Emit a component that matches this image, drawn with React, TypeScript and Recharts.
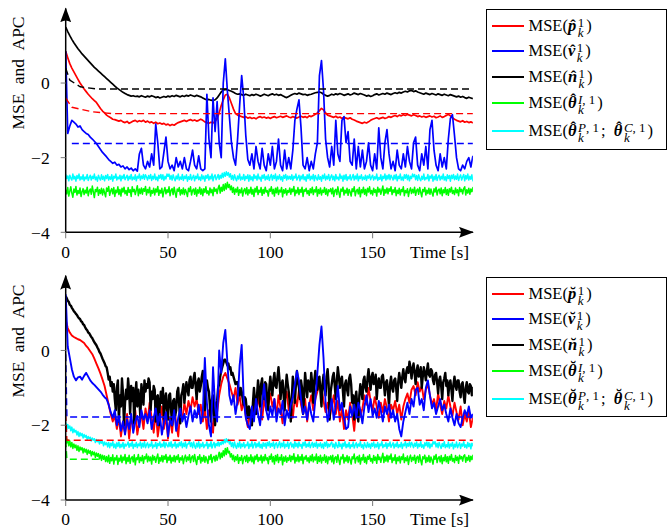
import React from 'react';
import { LineChart, Line, XAxis, YAxis } from 'recharts';

// sample spacing (s): slow traces every 1 s, the dense noisy ones every 0.5 s
const STEP = 1;
const FINE = 0.5;

// ---- upper panel (hat estimates) ----
const topP = [
  0.85, 0.68, 0.52, 0.4, 0.3, 0.2, 0.1, 0.0, -0.08, -0.16, -0.23, -0.3, -0.36, -0.42, -0.47, -0.52, -0.6, -0.68, -0.75, -0.8,
  -0.86, -0.9, -0.93, -0.97, -0.98, -1.0, -1.02, -1.0, -1.04, -1.06, -1.03, -1.08, -1.05, -1.02, -1.0, -1.04, -1.01, -1.03, -1.0, -1.05,
  -1.02, -1.06, -1.04, -1.08, -1.05, -1.09, -1.07, -1.1, -1.08, -1.12, -1.1, -1.14, -1.11, -1.13, -1.09, -1.06, -1.04, -1.02, -1.0, -1.03,
  -1.0, -0.98, -1.01, -0.99, -1.02, -1.0, -0.97, -1.0, -1.04, -1.06, -1.08, -1.05, -1.07, -1.03, -0.95, -0.8, -0.6, -0.45, -0.32, -0.3,
  -0.4, -0.55, -0.7, -0.82, -0.86, -0.88, -0.9, -0.92, -0.9, -0.94, -0.92, -0.95, -0.93, -0.96, -0.92, -0.9, -0.93, -0.91, -0.94, -0.92,
  -0.95, -0.92, -0.9, -0.93, -0.91, -0.89, -0.92, -0.9, -0.88, -0.91, -0.93, -0.9, -0.92, -0.94, -0.91, -0.89, -0.92, -0.9, -0.93, -0.88,
  -0.9, -0.87, -0.84, -0.8, -0.74, -0.68, -0.72, -0.8, -0.86, -0.88, -0.9, -0.92, -0.89, -0.93, -0.91, -0.95, -0.92, -0.94, -0.96, -0.93,
  -0.97, -0.99, -1.02, -1.04, -1.06, -1.08, -1.05, -1.07, -1.04, -1.0, -0.97, -0.95, -0.93, -0.96, -0.94, -0.92, -0.95, -0.93, -0.9, -0.92,
  -0.89, -0.87, -0.9, -0.86, -0.88, -0.85, -0.87, -0.84, -0.86, -0.88, -0.85, -0.87, -0.9, -0.88, -0.91, -0.89, -0.92, -0.9, -0.88, -0.91,
  -0.89, -0.93, -0.91, -0.88, -0.92, -0.9, -0.87, -0.84, -0.88, -0.93, -0.97, -1.0, -1.02, -1.04, -1.01, -1.05, -1.03, -1.06, -1.04, -1.07,
];
const topV = [
  0.85, -1.35, -1.15, -1.0, -1.05, -1.1, -1.18, -1.15, -1.25, -1.3, -1.35, -1.38, -1.45, -1.5, -1.56, -1.62, -1.7, -1.78, -1.86, -1.92,
  -1.98, -2.05, -2.1, -2.15, -2.12, -2.2, -2.18, -2.25, -2.22, -2.3, -2.25, -2.32, -2.28, -2.35, -2.3, -2.36, -1.9, -1.75, -2.2, -2.3,
  -2.1, -2.25, -1.9, -2.2, -1.1, -1.6, -2.3, -2.25, -1.85, -1.45, -2.1, -2.3, -2.2, -2.35, -2.0, -2.25, -2.1, -2.3, -2.0, -2.3,
  -2.35, -2.1, -1.8, -2.2, -2.3, -1.95, -2.3, -2.35, -2.3, -0.3, -1.5, -2.0, -0.4, -1.3, -0.5, -1.6, -2.0, 0.0, 0.65, -0.2,
  -0.9, -1.6, -2.0, -2.2, -1.5, -0.6, 0.2, -0.4, -1.4, -2.05, -2.2, -1.9, -2.3, -1.7, -2.1, -2.3, -1.75, -2.2, -2.35, -1.9,
  -2.2, -1.7, -2.3, -2.1, -1.5, -2.2, -2.35, -1.8, -2.3, -2.0, -2.3, -1.8, -1.0, -0.7, -0.45, -1.2, -2.2, -2.3, -2.0, -2.35,
  -2.1, -2.3, -1.9, -1.6, 0.2, 0.6, -0.2, -1.5, -2.0, -2.25, -1.7, -2.2, -1.0, -1.9, -2.1, -1.0, -0.9, -1.6, -1.3, -2.1,
  -2.2, -1.5, -2.3, -1.7, -2.25, -1.8, -2.3, -2.1, -1.6, -2.2, -2.35, -1.9, -2.3, -1.2, -2.0, -2.3, -1.6, -1.25, -1.9, -2.3,
  -2.1, -2.35, -1.8, -2.2, -2.3, -1.9, -2.25, -1.7, -2.1, -2.3, -1.6, -1.45, -2.2, -2.35, -1.9, -2.2, -1.7, -2.3, -1.25, -1.0,
  -1.8, -2.2, -2.35, -1.9, -2.25, -2.0, -2.3, -1.5, -0.95, -0.85, -1.4, -2.0, -2.3, -2.35, -2.2, -2.3, -2.1, -2.0, -2.25, -1.95,
];
const topN = [
  1.5, 1.38, 1.27, 1.17, 1.08, 1.0, 0.92, 0.85, 0.78, 0.72, 0.66, 0.6, 0.54, 0.48, 0.42, 0.37, 0.32, 0.27, 0.22, 0.17,
  0.12, 0.07, 0.02, -0.03, -0.08, -0.13, -0.17, -0.21, -0.25, -0.28, -0.31, -0.33, -0.35, -0.34, -0.36, -0.35, -0.37, -0.34, -0.36, -0.38,
  -0.35, -0.37, -0.34, -0.36, -0.39, -0.37, -0.4, -0.38, -0.36, -0.38, -0.35, -0.37, -0.34, -0.36, -0.33, -0.35, -0.37, -0.34, -0.36, -0.33,
  -0.35, -0.32, -0.34, -0.36, -0.33, -0.35, -0.37, -0.4, -0.43, -0.45, -0.44, -0.46, -0.47, -0.45, -0.4, -0.32, -0.24, -0.19, -0.17, -0.18,
  -0.2, -0.22, -0.25, -0.28, -0.3, -0.29, -0.31, -0.33, -0.3, -0.32, -0.34, -0.31, -0.33, -0.3, -0.32, -0.35, -0.33, -0.3, -0.32, -0.34,
  -0.31, -0.29, -0.32, -0.3, -0.33, -0.31, -0.34, -0.37, -0.39, -0.36, -0.33, -0.3, -0.28, -0.3, -0.27, -0.29, -0.31, -0.3, -0.33, -0.31,
  -0.3, -0.28, -0.26, -0.25, -0.24, -0.26, -0.3, -0.33, -0.35, -0.33, -0.3, -0.32, -0.29, -0.31, -0.28, -0.3, -0.33, -0.31, -0.29, -0.32,
  -0.3, -0.27, -0.29, -0.31, -0.28, -0.3, -0.32, -0.35, -0.33, -0.36, -0.34, -0.31, -0.29, -0.32, -0.3, -0.28, -0.3, -0.27, -0.29, -0.31,
  -0.28, -0.26, -0.28, -0.25, -0.27, -0.24, -0.22, -0.24, -0.21, -0.2, -0.23, -0.21, -0.24, -0.26, -0.28, -0.3, -0.27, -0.29, -0.31, -0.28,
  -0.3, -0.32, -0.29, -0.31, -0.33, -0.3, -0.32, -0.34, -0.31, -0.33, -0.35, -0.37, -0.35, -0.38, -0.36, -0.39, -0.41, -0.38, -0.4, -0.42,
];
// 0.5 s samples
const topThI = [
  -2.86, -2.97, -2.8, -3.03, -2.9, -2.78, -2.95, -3.06, -2.84, -2.93, -2.77, -3.0, -2.88, -2.96, -2.81, -3.04, -2.91, -2.83, -2.99, -2.87,
  -2.95, -2.79, -3.02, -2.89, -2.84, -2.98, -2.76, -2.92, -3.07, -2.85, -2.91, -2.79, -3.01, -2.86, -2.96, -2.82, -3.0, -2.84, -2.94, -3.05,
  -2.81, -2.9, -2.77, -3.01, -2.89, -2.83, -2.97, -2.8, -3.04, -2.87, -2.94, -2.78, -2.99, -2.85, -3.03, -2.82, -2.92, -2.79, -2.97, -2.88,
  -3.01, -2.8, -2.93, -2.86, -3.04, -2.78, -2.91, -2.85, -2.99, -2.87, -2.75, -3.02, -2.84, -2.96, -2.81, -2.98, -2.83, -2.9, -2.77, -3.0,
  -2.85, -2.94, -2.79, -3.03, -2.88, -2.95, -2.82, -3.0, -2.84, -2.92, -2.77, -3.01, -2.87, -2.95, -2.82, -3.05, -2.89, -2.8, -2.97, -2.86,
  -2.93, -2.78, -3.02, -2.87, -2.83, -2.99, -2.79, -2.94, -3.06, -2.84, -2.9, -2.8, -3.0, -2.86, -2.97, -2.81, -2.99, -2.85, -2.93, -3.04,
  -2.82, -2.91, -2.78, -3.0, -2.88, -2.84, -2.98, -2.81, -3.03, -2.86, -2.95, -2.79, -2.98, -2.84, -3.02, -2.83, -2.93, -2.78, -2.96, -2.89,
  -3.0, -2.81, -2.94, -2.85, -3.02, -2.8, -2.9, -2.84, -2.96, -2.82, -2.74, -2.95, -2.79, -2.9, -2.72, -2.88, -2.7, -2.84, -2.66, -2.8,
  -2.72, -2.86, -2.76, -2.93, -2.8, -2.98, -2.84, -2.92, -2.79, -3.01, -2.86, -2.94, -2.81, -3.03, -2.88, -2.83, -2.97, -2.8, -3.0, -2.86,
  -2.95, -2.79, -2.98, -2.85, -3.04, -2.82, -2.92, -2.77, -2.99, -2.87, -2.93, -2.8, -3.01, -2.85, -2.96, -2.79, -2.92, -2.88, -3.03, -2.84,
  -2.9, -2.78, -2.97, -2.85, -3.03, -2.82, -2.94, -2.79, -2.99, -2.87, -2.92, -2.8, -3.05, -2.86, -2.95, -2.83, -3.0, -2.88, -2.93, -2.81,
  -2.98, -2.84, -2.91, -2.77, -3.02, -2.87, -2.95, -2.8, -2.99, -2.85, -2.93, -2.79, -3.04, -2.86, -2.9, -2.82, -2.97, -2.88, -3.01, -2.83,
  -2.94, -2.79, -2.99, -2.86, -2.92, -2.78, -3.03, -2.85, -2.96, -2.81, -3.0, -2.87, -2.93, -2.8, -2.98, -2.84, -3.02, -2.86, -2.91, -2.83,
  -2.97, -2.81, -3.04, -2.88, -2.85, -2.99, -2.78, -2.93, -3.06, -2.84, -2.9, -2.79, -3.0, -2.87, -2.95, -2.82, -3.01, -2.85, -2.92, -3.03,
  -2.83, -2.91, -2.78, -3.02, -2.89, -2.85, -2.97, -2.8, -3.05, -2.86, -2.94, -2.79, -2.98, -2.85, -3.02, -2.82, -2.92, -2.78, -2.97, -2.88,
  -3.0, -2.82, -2.93, -2.86, -3.03, -2.79, -2.92, -2.84, -2.98, -2.87, -2.76, -3.01, -2.85, -2.95, -2.81, -2.97, -2.83, -2.9, -2.78, -2.99,
  -2.86, -2.93, -2.8, -3.02, -2.87, -2.96, -2.82, -3.0, -2.85, -2.91, -2.78, -3.02, -2.88, -2.94, -2.83, -3.04, -2.89, -2.81, -2.96, -2.85,
  -2.94, -2.79, -3.01, -2.88, -2.84, -2.98, -2.8, -2.93, -3.05, -2.85, -2.91, -2.8, -3.0, -2.87, -2.96, -2.82, -2.98, -2.84, -2.94, -3.03,
  -2.83, -2.92, -2.79, -3.0, -2.87, -2.84, -2.97, -2.81, -3.02, -2.86, -2.94, -2.8, -2.99, -2.85, -3.01, -2.83, -2.92, -2.79, -2.96, -2.88,
  -2.99, -2.81, -2.94, -2.86, -3.02, -2.8, -2.91, -2.85, -2.97, -2.83, -2.78, -3.0, -2.86, -2.95, -2.82, -2.98, -2.84, -2.91, -2.8, -2.97,
];
// 0.5 s samples
const topThPC = [
  -2.45, -2.56, -2.49, -2.62, -2.47, -2.55, -2.6, -2.44, -2.57, -2.5, -2.63, -2.48, -2.56, -2.44, -2.6, -2.51, -2.58, -2.46, -2.62, -2.52,
  -2.57, -2.45, -2.61, -2.53, -2.47, -2.6, -2.5, -2.56, -2.44, -2.59, -2.52, -2.63, -2.47, -2.55, -2.6, -2.46, -2.58, -2.5, -2.62, -2.48,
  -2.56, -2.45, -2.6, -2.51, -2.58, -2.46, -2.63, -2.5, -2.55, -2.44, -2.6, -2.52, -2.57, -2.47, -2.62, -2.49, -2.56, -2.45, -2.59, -2.53,
  -2.47, -2.61, -2.5, -2.57, -2.45, -2.6, -2.52, -2.58, -2.46, -2.62, -2.5, -2.55, -2.44, -2.6, -2.49, -2.56, -2.45, -2.58, -2.46, -2.52,
  -2.6, -2.48, -2.56, -2.45, -2.61, -2.5, -2.57, -2.44, -2.59, -2.52, -2.62, -2.47, -2.55, -2.45, -2.58, -2.46, -2.61, -2.5, -2.57, -2.44,
  -2.5, -2.44, -2.58, -2.48, -2.6, -2.46, -2.55, -2.62, -2.49, -2.57, -2.44, -2.6, -2.52, -2.58, -2.45, -2.61, -2.5, -2.56, -2.46, -2.63,
  -2.51, -2.58, -2.45, -2.6, -2.53, -2.47, -2.62, -2.5, -2.56, -2.44, -2.59, -2.52, -2.61, -2.46, -2.57, -2.49, -2.63, -2.48, -2.55, -2.45,
  -2.6, -2.5, -2.57, -2.44, -2.62, -2.51, -2.46, -2.59, -2.53, -2.45, -2.58, -2.47, -2.55, -2.42, -2.53, -2.4, -2.5, -2.38, -2.47, -2.4,
  -2.52, -2.43, -2.58, -2.48, -2.6, -2.46, -2.55, -2.62, -2.49, -2.57, -2.44, -2.6, -2.52, -2.58, -2.45, -2.61, -2.5, -2.56, -2.46, -2.63,
  -2.47, -2.59, -2.51, -2.62, -2.45, -2.56, -2.49, -2.6, -2.44, -2.57, -2.52, -2.63, -2.47, -2.55, -2.45, -2.6, -2.5, -2.58, -2.46, -2.61,
  -2.52, -2.45, -2.6, -2.48, -2.56, -2.44, -2.62, -2.5, -2.57, -2.46, -2.59, -2.51, -2.63, -2.47, -2.55, -2.45, -2.6, -2.49, -2.57, -2.5,
  -2.58, -2.46, -2.61, -2.5, -2.55, -2.44, -2.6, -2.53, -2.47, -2.62, -2.49, -2.57, -2.45, -2.59, -2.51, -2.63, -2.46, -2.56, -2.44, -2.6,
  -2.5, -2.57, -2.45, -2.62, -2.48, -2.55, -2.6, -2.46, -2.58, -2.51, -2.63, -2.47, -2.56, -2.44, -2.6, -2.5, -2.57, -2.45, -2.61, -2.52,
  -2.46, -2.59, -2.5, -2.62, -2.45, -2.57, -2.52, -2.6, -2.44, -2.56, -2.49, -2.63, -2.47, -2.58, -2.45, -2.61, -2.51, -2.57, -2.46, -2.6,
  -2.53, -2.45, -2.6, -2.49, -2.57, -2.44, -2.62, -2.5, -2.56, -2.46, -2.6, -2.52, -2.58, -2.47, -2.61, -2.49, -2.55, -2.45, -2.59, -2.52,
  -2.47, -2.6, -2.51, -2.57, -2.44, -2.61, -2.53, -2.58, -2.46, -2.62, -2.5, -2.56, -2.44, -2.6, -2.48, -2.57, -2.45, -2.59, -2.47, -2.53,
  -2.6, -2.47, -2.57, -2.45, -2.62, -2.5, -2.56, -2.44, -2.6, -2.52, -2.61, -2.46, -2.55, -2.45, -2.59, -2.47, -2.62, -2.5, -2.56, -2.44,
  -2.51, -2.45, -2.59, -2.48, -2.61, -2.46, -2.56, -2.62, -2.5, -2.58, -2.44, -2.6, -2.53, -2.57, -2.45, -2.62, -2.49, -2.55, -2.46, -2.63,
  -2.5, -2.59, -2.45, -2.61, -2.52, -2.47, -2.6, -2.5, -2.57, -2.44, -2.6, -2.51, -2.62, -2.46, -2.56, -2.48, -2.63, -2.47, -2.56, -2.45,
  -2.59, -2.49, -2.58, -2.44, -2.61, -2.52, -2.46, -2.6, -2.52, -2.45, -2.62, -2.48, -2.57, -2.44, -2.6, -2.5, -2.58, -2.46, -2.62, -2.51,
];
// dashed reference levels, upper panel
const topPRef = [{ t: 0, y: -0.4 }, { t: 3, y: -0.65 }, { t: 13, y: -0.77 }, { t: 23, y: -0.82 }, { t: 199, y: -0.82 }];
const topVRef = [{ t: 3, y: -1.62 }, { t: 199, y: -1.62 }];
const topNRef = [{ t: 0, y: 0.4 }, { t: 2, y: 0.08 }, { t: 7, y: -0.1 }, { t: 15, y: -0.16 }, { t: 199, y: -0.16 }];

// ---- lower panel (breve estimates) ----
const botP = [
  0.82, 0.6, 0.48, 0.4, 0.36, 0.33, 0.3, 0.28, 0.24, 0.2, 0.12, 0.06, -0.02, -0.1, -0.22, -0.35, -0.48, -0.62, -0.78, -0.95,
  -1.2, -1.45, -1.7, -1.9, -1.75, -2.1, -1.8, -2.3, -1.9, -2.2, -1.7, -2.35, -1.85, -2.0, -1.6, -2.25, -1.9, -1.7, -2.1, -1.55,
  -1.9, -1.4, -1.8, -2.2, -1.6, -2.3, -1.9, -1.5, -2.1, -1.75, -2.35, -1.8, -2.2, -1.5, -1.95, -2.3, -1.6, -1.85, -1.4, -1.7,
  -1.35, -1.6, -1.25, -1.5, -1.3, -1.7, -1.45, -1.9, -1.55, -2.1, -1.6, -1.8, -2.2, -1.4, -1.65, -1.2, -0.9, -0.7, -0.6, -0.75,
  -0.9, -1.1, -1.3, -1.0, -1.45, -1.2, -1.6, -1.35, -1.75, -2.05, -1.6, -1.9, -1.4, -1.7, -1.25, -1.55, -1.85, -1.3, -1.6, -1.45,
  -1.15, -1.5, -1.3, -1.75, -1.2, -1.55, -1.95, -1.35, -1.1, -1.6, -1.4, -1.8, -1.25, -1.5, -1.05, -1.45, -1.7, -1.3, -1.9, -1.45,
  -1.2, -1.6, -1.3, -1.1, -0.9, -1.0, -1.35, -1.65, -1.4, -1.8, -1.5, -1.2, -1.7, -1.35, -1.9, -1.55, -2.1, -1.6, -1.85, -1.4,
  -1.7, -2.15, -1.5, -1.3, -1.75, -1.55, -1.2, -1.45, -1.0, -1.35, -1.6, -1.25, -1.5, -1.8, -1.4, -1.65, -1.3, -1.55, -1.9, -1.45,
  -1.6, -1.35, -1.7, -1.45, -1.85, -1.5, -1.3, -1.15, -1.4, -1.05, -0.95, -1.2, -0.85, -1.1, -0.95, -1.3, -1.05, -0.9, -1.2, -1.45,
  -1.3, -1.6, -1.15, -1.45, -1.7, -1.35, -1.55, -1.2, -1.5, -1.75, -1.4, -1.65, -1.85, -1.5, -2.0, -1.7, -1.9, -1.6, -2.05, -1.8,
];
const botV = [
  1.5, 0.1, -0.2, -0.5, -0.7, -0.8, -0.72, -0.7, -0.78, -0.68, -0.6, -0.7, -0.8, -0.87, -0.92, -0.98, -1.04, -1.1, -1.18, -1.25,
  -1.3, -1.45, -1.65, -1.8, -1.6, -2.0, -1.75, -2.15, -1.9, -2.25, -1.85, -2.1, -1.7, -2.2, -1.9, -1.75, -2.05, -1.6, -1.85, -1.7,
  -1.95, -1.6, -2.1, -1.8, -1.55, -2.0, -1.7, -2.25, -1.9, -1.65, -2.3, -1.85, -2.0, -1.6, -2.15, -1.8, -1.55, -1.9, -1.7, -2.05,
  -1.75, -1.5, -1.9, -1.6, -1.8, -1.45, -1.95, -1.7, -0.2, -1.4, -2.0, -2.3, -0.45, -1.5, -1.9, 0.0, -0.6, 0.2, 0.55, -0.3,
  -1.2, -1.45, -1.2, -1.7, -1.35, -0.4, 0.15, -1.3, -1.8, -2.0, -2.1, -1.5, -1.9, -1.3, -1.7, -2.0, -1.4, -0.9, -1.6, -1.85,
  -1.5, -1.75, -1.3, -1.9, -1.55, -1.7, -1.35, -2.0, -1.6, -1.8, -1.45, -1.25, -0.9, -0.55, -0.8, -1.3, -1.7, -1.5, -1.85, -1.4,
  -1.7, -1.9, -1.3, -0.6, 0.15, 0.64, -0.2, -1.4, -1.9, -1.6, -1.3, -1.85, -1.5, -0.95, -1.6, -1.4, -1.8, -2.1, -2.05, -1.5,
  -1.75, -1.45, -1.8, -1.4, -1.6, -1.95, -1.5, -1.2, -1.65, -1.3, -1.75, -1.55, -1.8, -1.35, -1.6, -1.9, -1.5, -1.7, -1.45, -1.8,
  -1.6, -1.9, -1.7, -2.1, -2.3, -1.9, -1.65, -1.4, -1.7, -1.3, -1.5, -1.05, -1.0, -1.45, -1.3, -1.6, -1.0, -0.8, -1.2, -1.55,
  -1.4, -1.7, -1.5, -1.3, -1.6, -1.45, -1.7, -1.9, -1.55, -1.8, -2.0, -1.7, -1.95, -2.05, -1.8, -1.6, -1.75, -1.5, -1.8, -1.7,
];
// 0.5 s samples
const botN = [
  1.45, 1.4, 1.33, 1.3, 1.22, 1.2, 1.14, 1.1, 1.05, 1.02, 0.98, 0.95, 0.9, 0.86, 0.84, 0.78, 0.76, 0.7, 0.68, 0.62,
  0.57, 0.54, 0.48, 0.46, 0.41, 0.36, 0.33, 0.27, 0.22, 0.18, 0.14, 0.08, 0.03, -0.04, -0.08, -0.15, -0.22, -0.28, -0.34, -0.42,
  -0.45, -0.6, -0.78, -0.7, -0.95, -0.85, -1.1, -0.9, -1.3, -1.6, -1.0, -0.8, -1.9, -1.2, -1.5, -0.75, -1.15, -2.0, -1.4, -1.05,
  -1.3, -0.75, -1.1, -1.7, -0.95, -1.35, -1.0, -1.95, -1.2, -0.85, -1.5, -1.05, -1.3, -1.8, -0.9, -1.15, -1.45, -0.8, -1.1, -0.9,
  -1.0, -0.75, -0.85, -1.6, -1.1, -1.3, -0.95, -1.05, -1.9, -1.25, -1.2, -2.0, -1.45, -1.1, -1.4, -1.0, -1.85, -1.3, -1.15, -1.6,
  -1.85, -1.2, -1.15, -1.6, -2.0, -1.35, -1.3, -1.75, -1.6, -1.1, -1.0, -1.5, -1.95, -1.2, -1.1, -0.9, -1.4, -1.1, -0.85, -1.05,
  -1.2, -0.8, -0.7, -1.0, -1.0, -0.75, -0.6, -0.95, -1.3, -0.85, -0.75, -1.1, -0.95, -0.7, -0.55, -0.9, -1.6, -1.2, -0.8, -1.0,
  -1.1, -1.5, -1.9, -1.3, -1.2, -1.7, -2.0, -1.5, -1.35, -1.0, -0.9, -0.7, -0.55, -0.45, -0.35, -0.25, -0.25, -0.32, -0.4, -0.35,
  -0.5, -0.45, -0.65, -0.6, -0.7, -0.8, -0.9, -0.85, -0.85, -1.05, -1.2, -1.0, -1.1, -1.3, -1.45, -1.25, -1.3, -1.6, -1.8, -1.5,
  -1.6, -1.9, -2.0, -1.4, -1.0, -1.35, -1.7, -1.2, -0.8, -1.1, -1.5, -0.9, -0.75, -1.2, -1.3, -0.85, -0.9, -1.4, -1.6, -1.0,
  -0.7, -1.0, -1.2, -0.8, -0.6, -0.95, -1.0, -0.7, -0.45, -0.8, -1.3, -0.9, -0.8, -1.2, -1.6, -1.0, -0.65, -0.9, -1.1, -1.4,
  -1.9, -1.3, -0.7, -1.0, -1.4, -0.9, -0.55, -0.85, -1.0, -1.3, -0.8, -1.0, -1.7, -1.2, -0.6, -0.9, -1.25, -0.8, -0.9, -1.1,
  -0.6, -0.9, -1.4, -0.8, -0.55, -0.85, -1.05, -0.75, -0.7, -1.1, -1.5, -0.9, -0.65, -1.0, -1.2, -0.7, -0.5, -0.9, -1.85, -1.1,
  -0.9, -0.7, -0.6, -0.95, -1.3, -0.8, -0.45, -0.7, -1.0, -0.8, -0.7, -1.1, -1.5, -0.9, -0.8, -1.05, -1.2, -0.75, -0.65, -0.9,
  -1.4, -1.2, -1.85, -1.3, -1.1, -1.5, -1.9, -1.2, -0.9, -1.1, -1.3, -0.8, -0.7, -1.0, -1.1, -0.75, -0.5, -0.8, -1.05, -0.7,
  -0.6, -0.9, -0.85, -0.65, -1.3, -0.9, -0.75, -1.0, -1.0, -0.7, -0.65, -0.9, -1.2, -0.85, -0.8, -1.1, -1.5, -0.9, -0.7, -1.0,
  -1.1, -0.8, -0.75, -1.0, -1.35, -0.85, -0.6, -0.8, -1.0, -0.7, -0.5, -0.75, -0.85, -0.55, -0.45, -0.6, -0.3, -0.45, -0.75, -0.5,
  -0.35, -0.6, -0.9, -0.55, -0.4, -0.7, -0.65, -0.45, -1.0, -0.7, -0.45, -0.6, -0.8, -0.55, -0.35, -0.65, -0.7, -0.5, -0.55, -0.8,
  -0.9, -0.65, -0.6, -0.85, -1.15, -0.8, -0.7, -0.95, -1.3, -0.85, -0.75, -0.6, -0.95, -0.8, -1.2, -0.9, -0.8, -1.05, -1.35, -0.9,
  -0.7, -0.95, -1.05, -0.8, -0.8, -1.1, -1.25, -0.9, -0.85, -1.2, -1.4, -1.0, -0.85, -1.1, -1.15, -0.9, -0.95, -1.2, -1.0, -1.05,
];
// 0.5 s samples
const botThI = [
  -2.32, -2.48, -2.38, -2.55, -2.42, -2.58, -2.46, -2.62, -2.5, -2.6, -2.53, -2.67, -2.55, -2.7, -2.58, -2.66, -2.6, -2.74, -2.62, -2.72,
  -2.64, -2.78, -2.66, -2.75, -2.68, -2.82, -2.7, -2.79, -2.72, -2.86, -2.74, -2.83, -2.76, -2.9, -2.78, -2.94, -2.8, -2.9, -2.82, -2.97,
  -2.84, -2.98, -2.8, -3.02, -2.86, -2.95, -2.79, -3.04, -2.87, -2.93, -2.81, -3.05, -2.88, -2.96, -2.8, -3.0, -2.85, -2.94, -2.78, -3.03,
  -2.86, -2.97, -2.8, -3.02, -2.88, -2.84, -2.98, -2.79, -3.06, -2.87, -2.92, -2.78, -3.0, -2.86, -2.95, -2.81, -3.02, -2.84, -2.9, -2.77,
  -2.98, -2.83, -2.95, -2.85, -3.04, -2.8, -2.93, -2.84, -2.99, -2.87, -2.77, -3.02, -2.86, -2.96, -2.81, -2.98, -2.82, -2.91, -2.78, -3.0,
  -2.85, -2.94, -2.8, -3.01, -2.86, -2.96, -2.81, -2.98, -2.83, -2.92, -2.79, -2.99, -2.87, -2.93, -2.82, -3.03, -2.88, -2.8, -2.97, -2.85,
  -2.93, -2.79, -3.0, -2.86, -2.82, -2.97, -2.78, -2.94, -3.05, -2.84, -2.91, -2.79, -3.01, -2.86, -2.96, -2.81, -2.99, -2.84, -2.93, -3.02,
  -2.82, -2.92, -2.78, -3.0, -2.87, -2.83, -2.96, -2.8, -2.94, -2.84, -2.72, -2.9, -2.74, -2.86, -2.68, -2.82, -2.62, -2.78, -2.6, -2.74,
  -2.7, -2.85, -2.76, -2.92, -2.8, -2.97, -2.84, -2.93, -2.79, -3.02, -2.86, -2.94, -2.81, -3.03, -2.88, -2.83, -2.97, -2.8, -3.0, -2.86,
  -2.95, -2.79, -2.98, -2.85, -3.03, -2.82, -2.92, -2.78, -2.97, -2.86, -2.94, -2.8, -3.01, -2.84, -2.95, -2.78, -2.93, -2.87, -3.03, -2.83,
  -2.91, -2.77, -2.98, -2.84, -3.04, -2.81, -2.95, -2.78, -3.0, -2.86, -2.93, -2.79, -3.06, -2.85, -2.96, -2.82, -2.99, -2.87, -2.94, -2.8,
  -2.97, -2.83, -2.92, -2.76, -3.01, -2.86, -2.96, -2.79, -2.98, -2.84, -2.94, -2.78, -3.03, -2.85, -2.91, -2.81, -2.96, -2.87, -3.0, -2.82,
  -2.95, -2.78, -2.98, -2.85, -2.93, -2.77, -3.02, -2.84, -2.97, -2.8, -3.01, -2.86, -2.94, -2.79, -2.99, -2.83, -3.03, -2.85, -2.92, -2.82,
  -2.98, -2.8, -3.03, -2.87, -2.84, -2.99, -2.79, -2.93, -3.05, -2.85, -2.9, -2.78, -3.01, -2.86, -2.96, -2.81, -3.0, -2.84, -2.93, -3.04,
  -2.84, -2.9, -2.77, -3.01, -2.88, -2.84, -2.98, -2.8, -3.04, -2.87, -2.93, -2.78, -2.99, -2.86, -3.03, -2.83, -2.91, -2.79, -2.96, -2.89,
  -3.01, -2.81, -2.94, -2.85, -3.02, -2.78, -2.92, -2.85, -2.99, -2.86, -2.75, -3.0, -2.84, -2.96, -2.8, -2.98, -2.82, -2.91, -2.77, -3.0,
  -2.87, -2.94, -2.79, -3.03, -2.86, -2.95, -2.83, -3.01, -2.84, -2.92, -2.77, -3.0, -2.87, -2.95, -2.82, -3.05, -2.88, -2.8, -2.97, -2.86,
  -2.93, -2.8, -3.02, -2.87, -2.83, -2.99, -2.79, -2.94, -3.06, -2.84, -2.9, -2.8, -3.0, -2.86, -2.97, -2.81, -2.99, -2.85, -2.93, -3.04,
  -2.82, -2.91, -2.78, -3.0, -2.88, -2.84, -2.98, -2.81, -3.03, -2.86, -2.95, -2.79, -2.98, -2.84, -3.02, -2.83, -2.93, -2.78, -2.96, -2.89,
  -3.0, -2.81, -2.94, -2.85, -3.02, -2.8, -2.9, -2.84, -2.96, -2.82, -2.79, -2.99, -2.86, -2.94, -2.81, -2.97, -2.83, -2.92, -2.8, -2.98,
];
// 0.5 s samples
const botThPC = [
  -1.93, -2.12, -1.98, -2.08, -2.02, -2.15, -2.05, -2.2, -2.1, -2.18, -2.14, -2.26, -2.17, -2.3, -2.2, -2.28, -2.22, -2.34, -2.25, -2.32,
  -2.27, -2.38, -2.3, -2.36, -2.32, -2.42, -2.34, -2.4, -2.36, -2.46, -2.38, -2.44, -2.4, -2.5, -2.42, -2.48, -2.43, -2.55, -2.45, -2.52,
  -2.47, -2.58, -2.46, -2.6, -2.48, -2.55, -2.44, -2.6, -2.5, -2.62, -2.47, -2.57, -2.45, -2.6, -2.51, -2.58, -2.46, -2.62, -2.5, -2.56,
  -2.52, -2.45, -2.59, -2.49, -2.56, -2.44, -2.62, -2.51, -2.57, -2.46, -2.6, -2.5, -2.55, -2.45, -2.61, -2.48, -2.58, -2.44, -2.6, -2.52,
  -2.47, -2.6, -2.51, -2.56, -2.44, -2.61, -2.53, -2.57, -2.46, -2.62, -2.49, -2.55, -2.45, -2.59, -2.5, -2.57, -2.44, -2.6, -2.47, -2.53,
  -2.58, -2.46, -2.57, -2.44, -2.6, -2.51, -2.56, -2.45, -2.61, -2.5, -2.58, -2.46, -2.55, -2.44, -2.6, -2.48, -2.57, -2.45, -2.61, -2.5,
  -2.5, -2.43, -2.57, -2.47, -2.6, -2.45, -2.56, -2.62, -2.48, -2.58, -2.44, -2.61, -2.5, -2.57, -2.46, -2.6, -2.52, -2.55, -2.45, -2.62,
  -2.5, -2.57, -2.44, -2.61, -2.52, -2.46, -2.6, -2.49, -2.55, -2.45, -2.56, -2.46, -2.52, -2.42, -2.5, -2.38, -2.47, -2.36, -2.45, -2.38,
  -2.5, -2.44, -2.57, -2.47, -2.6, -2.45, -2.56, -2.62, -2.48, -2.58, -2.44, -2.61, -2.5, -2.57, -2.46, -2.6, -2.52, -2.55, -2.45, -2.62,
  -2.5, -2.57, -2.44, -2.61, -2.52, -2.46, -2.6, -2.49, -2.57, -2.45, -2.6, -2.51, -2.62, -2.47, -2.56, -2.48, -2.61, -2.46, -2.55, -2.44,
  -2.59, -2.49, -2.56, -2.45, -2.62, -2.5, -2.47, -2.6, -2.52, -2.44, -2.6, -2.48, -2.57, -2.44, -2.61, -2.51, -2.57, -2.45, -2.62, -2.5,
  -2.46, -2.58, -2.5, -2.61, -2.44, -2.57, -2.48, -2.6, -2.45, -2.56, -2.51, -2.62, -2.46, -2.55, -2.44, -2.59, -2.5, -2.57, -2.45, -2.6,
  -2.53, -2.46, -2.59, -2.48, -2.57, -2.45, -2.61, -2.5, -2.56, -2.47, -2.6, -2.5, -2.62, -2.46, -2.56, -2.44, -2.6, -2.5, -2.57, -2.49,
  -2.45, -2.58, -2.5, -2.62, -2.46, -2.55, -2.6, -2.44, -2.57, -2.5, -2.63, -2.48, -2.56, -2.44, -2.6, -2.51, -2.58, -2.46, -2.62, -2.52,
  -2.57, -2.45, -2.61, -2.53, -2.47, -2.6, -2.5, -2.56, -2.44, -2.59, -2.52, -2.63, -2.47, -2.55, -2.6, -2.46, -2.58, -2.5, -2.62, -2.48,
  -2.56, -2.45, -2.6, -2.51, -2.58, -2.46, -2.63, -2.5, -2.55, -2.44, -2.6, -2.52, -2.57, -2.47, -2.62, -2.49, -2.56, -2.45, -2.59, -2.53,
  -2.47, -2.61, -2.5, -2.57, -2.45, -2.6, -2.52, -2.58, -2.46, -2.62, -2.5, -2.55, -2.44, -2.6, -2.49, -2.56, -2.45, -2.58, -2.46, -2.52,
  -2.6, -2.48, -2.56, -2.45, -2.61, -2.5, -2.57, -2.44, -2.59, -2.52, -2.62, -2.47, -2.55, -2.45, -2.58, -2.46, -2.61, -2.5, -2.57, -2.44,
  -2.5, -2.44, -2.58, -2.48, -2.6, -2.46, -2.55, -2.62, -2.49, -2.57, -2.44, -2.6, -2.52, -2.58, -2.45, -2.61, -2.5, -2.56, -2.46, -2.63,
  -2.51, -2.58, -2.45, -2.6, -2.53, -2.47, -2.62, -2.5, -2.56, -2.44, -2.59, -2.52, -2.61, -2.46, -2.57, -2.49, -2.63, -2.48, -2.55, -2.45,
];
// dashed reference levels, lower panel
const botPRef = [{ t: 0, y: -1.7 }, { t: 0.6, y: -2.4 }, { t: 199, y: -2.4 }];
const botVRef = [{ t: 0, y: -0.1 }, { t: 0.6, y: -1.78 }, { t: 199, y: -1.78 }];
const botThIRef = [{ t: 0, y: -2.4 }, { t: 0.6, y: -2.91 }, { t: 19, y: -2.91 }];

const timeTicks = [0, 50, 100, 150];
const valueTicks = [-4, -2, 0];

const RED = '#ff0000';
const BLUE = '#0000ff';
const BLACK = '#000000';
const GREEN = '#00ff00';
const CYAN = '#00ffff';

const serif = '"Liberation Serif", "Times New Roman", serif';
const tickFont = { fontSize: 17.5, fontFamily: serif, fill: '#000' };
const fmtMinus = (v: number) => (v < 0 ? `\u2212${Math.abs(v)}` : `${v}`);

const sampled = (values: number[], step: number) => values.map((y, i) => ({ t: i * step, y }));

type Pt = { t: number; y: number };
type Trace = { data: Pt[]; color: string; width: number; dash?: boolean };

const topTraces: Trace[] = [
  { data: sampled(topThI, FINE), color: GREEN, width: 1.5 },
  { data: sampled(topThPC, FINE), color: CYAN, width: 1.5 },
  { data: sampled(topP, STEP), color: RED, width: 1.7 },
  { data: sampled(topN, STEP), color: BLACK, width: 1.7 },
  { data: sampled(topV, STEP), color: BLUE, width: 1.7 },
  { data: topPRef, color: RED, width: 1.4, dash: true },
  { data: topVRef, color: BLUE, width: 1.4, dash: true },
  { data: topNRef, color: BLACK, width: 1.4, dash: true },
];
const botTraces: Trace[] = [
  { data: sampled(botThI, FINE), color: GREEN, width: 1.5 },
  { data: sampled(botThPC, FINE), color: CYAN, width: 1.5 },
  { data: sampled(botP, STEP), color: RED, width: 1.9 },
  { data: sampled(botN, FINE), color: BLACK, width: 2.4 },
  { data: sampled(botV, STEP), color: BLUE, width: 1.9 },
  { data: botThIRef, color: GREEN, width: 1.4, dash: true },
  { data: botPRef, color: RED, width: 1.4, dash: true },
  { data: botVRef, color: BLUE, width: 1.4, dash: true },
];

const Panel = ({ traces, top, height, margin }: { traces: Trace[]; top: number; height: number; margin: any }) => (
  <div style={{ position: 'absolute', left: 0, top }}>
    <LineChart width={480} height={height} margin={margin}>
      <XAxis
        type="number"
        dataKey="t"
        domain={[0, 199]}
        ticks={timeTicks}
        allowDataOverflow
        height={25}
        tickSize={6}
        tickMargin={7}
        tick={tickFont}
        tickLine={{ stroke: '#777' }}
        axisLine={{ stroke: '#000', strokeWidth: 1.5, markerEnd: 'url(#axisArrow)' }}
      />
      <YAxis
        type="number"
        domain={[-4, 2]}
        ticks={valueTicks}
        allowDataOverflow
        width={65.7}
        tickSize={5}
        tickMargin={11}
        tick={tickFont}
        tickFormatter={fmtMinus}
        tickLine={{ stroke: '#777' }}
        axisLine={{ stroke: '#000', strokeWidth: 1.5, markerStart: 'url(#axisArrow)' }}
      />
      {traces.map((tr, i) => (
        <Line
          key={i}
          data={tr.data}
          type="linear"
          dataKey="y"
          stroke={tr.color}
          strokeWidth={tr.width}
          strokeDasharray={tr.dash ? '7 4' : undefined}
          strokeLinejoin="round"
          dot={false}
          activeDot={false}
          isAnimationActive={false}
        />
      ))}
    </LineChart>
  </div>
);

// accented bold symbol (hat / breve)
const Acc = ({ ch, mark, lift = 0 }: { ch: string; mark: string; lift?: number }) => (
  <span style={{ position: 'relative', display: 'inline-block', fontWeight: 'bold', fontStyle: 'italic' }}>
    {ch}
    <span style={{ position: 'absolute', left: 2, right: 0, top: lift, textAlign: 'center', fontStyle: 'normal' }}>
      {mark}
    </span>
  </span>
);

// stacked superscript / subscript
const Scr = ({ sup, sub }: { sup: React.ReactNode; sub: React.ReactNode }) => (
  <span
    style={{
      display: 'inline-block',
      verticalAlign: '-5.5px',
      fontSize: 13,
      lineHeight: '10px',
      marginLeft: 1.5,
      marginRight: 2,
    }}
  >
    <span style={{ display: 'block' }}>{sup}</span>
    <span style={{ display: 'block', fontStyle: 'italic' }}>{sub}</span>
  </span>
);

const legendLabels = (mark: string) => [
  { color: RED, label: <>MSE(<Acc ch="p" mark={mark} /><Scr sup="1" sub="k" />)</> },
  { color: BLUE, label: <>MSE(<Acc ch="v" mark={mark} /><Scr sup="1" sub="k" />)</> },
  { color: BLACK, label: <>MSE(<Acc ch="n" mark={mark} /><Scr sup="1" sub="k" />)</> },
  {
    color: GREEN,
    label: <>MSE(<Acc ch="θ" mark={mark} lift={-3} /><Scr sup={<><i>I</i>, 1</>} sub="k" />)</>,
  },
  {
    color: CYAN,
    label: (
      <>
        MSE(<Acc ch="θ" mark={mark} lift={-3} /><Scr sup={<><i>P</i>, 1</>} sub="k" />;{'\u2002'}
        <Acc ch="θ" mark={mark} lift={-3} /><Scr sup={<><i>C</i>, 1</>} sub="k" />)
      </>
    ),
  },
];

const ROW_Y = [16, 41, 67, 93, 121];

const LegendBox = ({ top, height, mark }: { top: number; height: number; mark: string }) => (
  <div
    style={{
      position: 'absolute',
      left: 486,
      top,
      width: 181,
      height,
      boxSizing: 'border-box',
      border: '1.5px solid #000',
      background: '#fff',
      fontFamily: serif,
      fontSize: 16.5,
      color: '#000',
    }}
  >
    {legendLabels(mark).map((it, i) => (
      <React.Fragment key={i}>
        <div style={{ position: 'absolute', left: 5, top: ROW_Y[i] - 1, width: 32, height: 2, background: it.color }} />
        <div style={{ position: 'absolute', left: 41.5, top: ROW_Y[i] + 5.7 - 15.6, lineHeight: '20px', whiteSpace: 'nowrap' }}>
          {it.label}
        </div>
      </React.Fragment>
    ))}
  </div>
);

const App = () => (
  <div style={{ position: 'absolute', left: 0, top: 0, width: 669, height: 527, overflow: 'hidden', background: '#fff' }}>
    <Panel traces={topTraces} top={0} height={265} margin={{ top: 8.4, right: 7.1, bottom: 7.7, left: 0 }} />
    <Panel traces={botTraces} top={268} height={259} margin={{ top: 7.7, right: 7.1, bottom: 2, left: 0 }} />
    <svg width={669} height={527} style={{ position: 'absolute', left: 0, top: 0, pointerEvents: 'none' }}>
      <defs>
        <marker
          id="axisArrow"
          markerUnits="userSpaceOnUse"
          viewBox="0 0 15 11"
          markerWidth={15}
          markerHeight={11}
          refX={14}
          refY={5.5}
          orient="auto-start-reverse"
        >
          <path d="M15,5.5 L0,0 Q4,5.5 0,11 Z" fill="#000" />
        </marker>
      </defs>
      <g fontFamily={serif} fontSize={17.5} fill="#000">
        <text transform="translate(24,73) rotate(-90)" textAnchor="middle" style={{ wordSpacing: '5px' }}>
          MSE and APC
        </text>
        <text transform="translate(24,341) rotate(-90)" textAnchor="middle" style={{ wordSpacing: '5px' }}>
          MSE and APC
        </text>
        <text x={410} y={257.5}>Time [s]</text>
        <text x={410} y={525}>Time [s]</text>
      </g>
    </svg>
    <LegendBox top={9} height={141} mark={'\u02C6'} />
    <LegendBox top={277} height={140} mark={'\u02D8'} />
  </div>
);

export default App;
